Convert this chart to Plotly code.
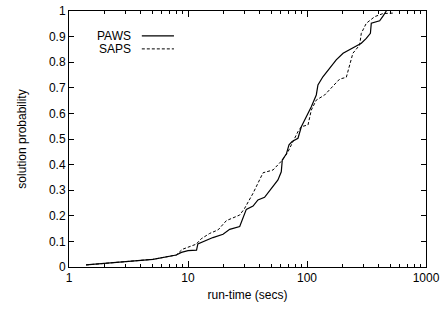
import plotly.graph_objects as go

paws_x = [1.39, 5.08, 7.98, 8.8, 10.0, 11.8, 12.1, 16.2, 19.7, 22.4, 27.2, 29.0, 30.9, 35.2, 38.7, 44.0,
          48.6, 57.0, 60.8, 62.0, 67.0, 70.6, 75.0, 84.0, 89.6, 98.6, 108.7, 119.7, 123.6, 136.0,
          155.0, 176.0, 201.0, 236.0, 286.0, 315.0, 341.0, 347.0, 408.0, 435.0, 464.0]
paws_y = [0.008, 0.03, 0.047, 0.057, 0.064, 0.066, 0.09, 0.115, 0.128, 0.147, 0.158, 0.19, 0.225, 0.238,
          0.262, 0.272, 0.30, 0.34, 0.372, 0.418, 0.441, 0.477, 0.49, 0.503, 0.548, 0.587, 0.626,
          0.672, 0.711, 0.743, 0.776, 0.809, 0.835, 0.854, 0.874, 0.893, 0.913, 0.952, 0.962, 0.98, 1.0]

saps_x = [1.39, 5.08, 7.98, 8.96, 11.7, 12.9, 15.2, 17.9, 21.0, 27.2, 29.9, 35.2, 42.7, 51.8, 62.8,
          69.2, 76.3, 84.0, 89.6, 102.0, 108.7, 119.7, 140.7, 165.0, 188.0, 214.0, 243.0, 277.0,
          286.0, 315.0, 371.0, 435.0, 540.0]
saps_y = [0.008, 0.03, 0.047, 0.069, 0.089, 0.11, 0.131, 0.145, 0.181, 0.203, 0.229, 0.288, 0.368,
          0.379, 0.42, 0.45, 0.49, 0.529, 0.548, 0.555, 0.613, 0.652, 0.672, 0.704, 0.734, 0.741,
          0.835, 0.867, 0.913, 0.952, 0.978, 0.99, 0.992]

series_names = ["PAWS", "SAPS"]
y_ticks = [0, 0.1, 0.2, 0.3, 0.4, 0.5, 0.6, 0.7, 0.8, 0.9, 1]
y_tick_labels = ["0", "0.1", "0.2", "0.3", "0.4", "0.5", "0.6", "0.7", "0.8", "0.9", "1"]
x_ticks = [1, 10, 100, 1000]
x_tick_labels = ["1", "10", "100", "1000"]
x_minor_ticks = [m * d for d in (1, 10, 100) for m in range(2, 10)]

FONT = "Liberation Sans, Arial, Helvetica, sans-serif"

fig = go.Figure()
fig.add_trace(go.Scatter(x=paws_x, y=paws_y, mode="lines", name=series_names[0],
                         line=dict(color="black", width=1.2), showlegend=False))
fig.add_trace(go.Scatter(x=saps_x, y=saps_y, mode="lines", name=series_names[1],
                         line=dict(color="black", width=1, dash="3px,2px"), showlegend=False))

# gnuplot-style legend: text then line sample
legend_rows = [(0.903, "solid", 1.2), (0.852, "3px,2px", 1)]
for (yy, dash, w), name in zip(legend_rows, series_names):
    fig.add_annotation(x=0.18, y=yy, xref="paper", yref="paper", text=name, showarrow=False,
                       xanchor="right", yanchor="middle", font=dict(family=FONT, size=12, color="black"))
    fig.add_shape(type="line", xref="paper", yref="paper", x0=0.204, x1=0.294, y0=yy, y1=yy,
                  line=dict(color="black", width=w, dash=dash))

fig.update_xaxes(type="log", range=[0, 3], tickvals=x_ticks, ticktext=x_tick_labels,
                 ticks="inside", ticklen=6, tickwidth=1, tickcolor="black",
                 showline=True, linecolor="black", linewidth=1, mirror="allticks",
                 showgrid=False, zeroline=False, automargin=False,
                 minor=dict(tickvals=x_minor_ticks, ticks="inside", ticklen=3, tickcolor="black", showgrid=False),
                 tickfont=dict(family=FONT, size=12, color="black"),
                 title=dict(text="run-time (secs)", font=dict(family=FONT, size=12, color="black"), standoff=6))
fig.update_yaxes(range=[0, 1], tickvals=y_ticks, ticktext=y_tick_labels,
                 ticks="inside", ticklen=5, tickwidth=1, tickcolor="black",
                 showline=True, linecolor="black", linewidth=1, mirror="allticks",
                 showgrid=False, zeroline=False, automargin=False,
                 tickfont=dict(family=FONT, size=12, color="black"),
                 title=dict(text="solution probability", font=dict(family=FONT, size=12, color="black"), standoff=19))

fig.update_layout(width=443, height=311, margin=dict(l=69, r=17, t=11, b=44),
                  plot_bgcolor="white", paper_bgcolor="white")
fig.write_html("out.html", config={"displayModeBar": False},
               post_script="document.body.style.margin='0px';document.body.style.padding='0px';")
